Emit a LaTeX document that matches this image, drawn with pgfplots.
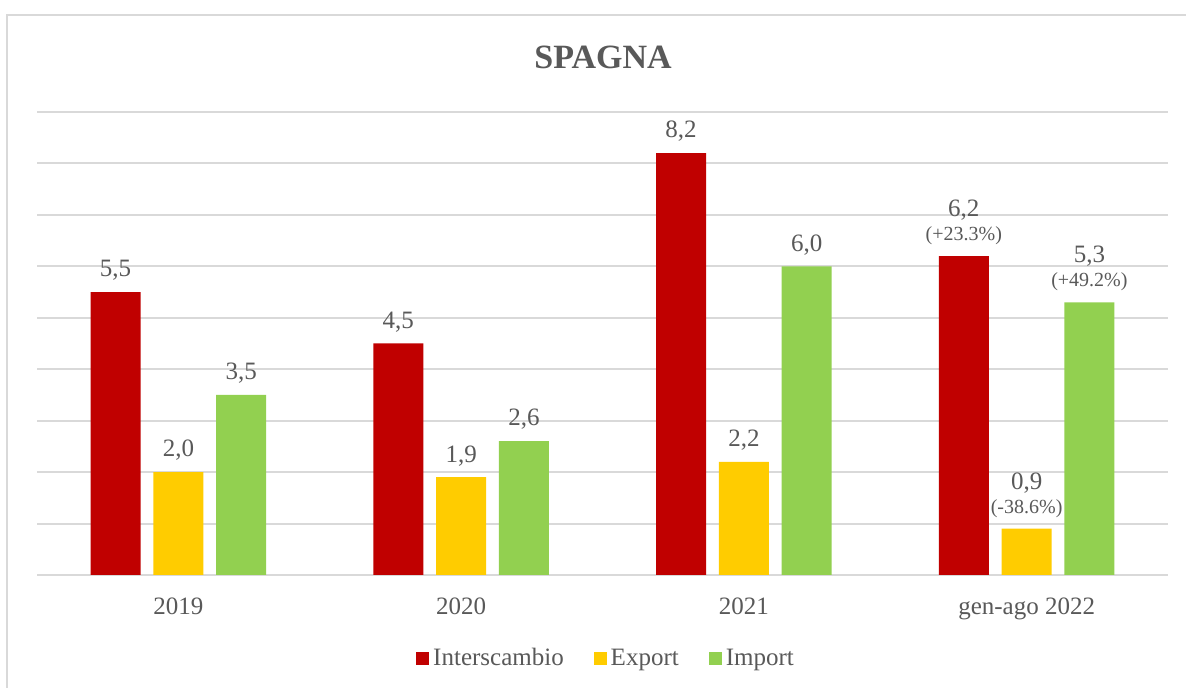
\documentclass[border=0pt]{standalone}
\usepackage{pgfplots}
\pgfplotsset{compat=1.18}
\usepackage{fontspec}
\setmainfont{Liberation Serif}
\definecolor{cRed}{HTML}{C00000}
\definecolor{cYel}{HTML}{FFCC00}
\definecolor{cGrn}{HTML}{92D050}
\definecolor{cTxt}{HTML}{595959}
\definecolor{cGrid}{HTML}{D9D9D9}
\begin{document}
\begin{tikzpicture}
\clip (0,0) rectangle (593pt,344pt);
\useasboundingbox (0,0) rectangle (593pt,344pt);
\fill[white] (0,0) rectangle (593pt,344pt);
\draw[cGrid, line width=1pt] (3.7pt,-10pt) rectangle (600pt,336.7pt);
\node[font=\fontsize{17}{20}\selectfont\bfseries, text=cTxt] at (301.5pt,315.5pt) {SPAGNA};
\begin{axis}[
  at={(18.5pt,56.5pt)}, anchor=south west,
  scale only axis, width=565.5pt, height=231.5pt,
  xmin=-0.5, xmax=3.5, ymin=0, ymax=9,
  ytick={0,1,...,9}, yticklabels={},
  xtick={0,1,2,3}, xticklabels={2019,2020,2021,gen-ago 2022},
  xticklabel style={font=\fontsize{12.5}{14}\selectfont, text=cTxt, yshift=-8pt},
  major tick length=0pt,
  axis line style={draw=none},
  ymajorgrids, major grid style={cGrid, line width=1pt},
  ybar, bar width=0.177,
  point meta=explicit symbolic,
  nodes near coords,
  every node near coord/.append style={font=\fontsize{12.5}{14}\selectfont, text=cTxt, align=center, anchor=south, inner sep=0pt, yshift=5.5pt},
  legend columns=3,
  legend style={at={(0.504,-0.181)}, anchor=center, draw=none, fill=none,
    font=\fontsize{12.5}{14}\selectfont, text=cTxt,
    /tikz/every even column/.append style={column sep=13pt}},
  legend image code/.code={\fill[#1] (0pt,-3.2pt) rectangle (6.5pt,3.3pt);},
]
\addplot[fill=cRed, draw=none, bar shift=-0.222] coordinates {
  (0,5.5) [{5,5}]
  (1,4.5) [{4,5}]
  (2,8.2) [{8,2}]
  (3,6.2) [{6,2\\[-2pt]{\fontsize{10}{11}\selectfont(+23.3\%)}}]
};
\addplot[fill=cYel, draw=none, bar shift=0] coordinates {
  (0,2.0) [{2,0}]
  (1,1.9) [{1,9}]
  (2,2.2) [{2,2}]
  (3,0.9) [{0,9\\[-2pt]{\fontsize{10}{11}\selectfont(-38.6\%)}}]
};
\addplot[fill=cGrn, draw=none, bar shift=0.222] coordinates {
  (0,3.5) [{3,5}]
  (1,2.6) [{2,6}]
  (2,6.0) [{6,0}]
  (3,5.3) [{5,3\\[-2pt]{\fontsize{10}{11}\selectfont(+49.2\%)}}]
};
\legend{Interscambio, Export, Import}
\end{axis}
\end{tikzpicture}
\end{document}
